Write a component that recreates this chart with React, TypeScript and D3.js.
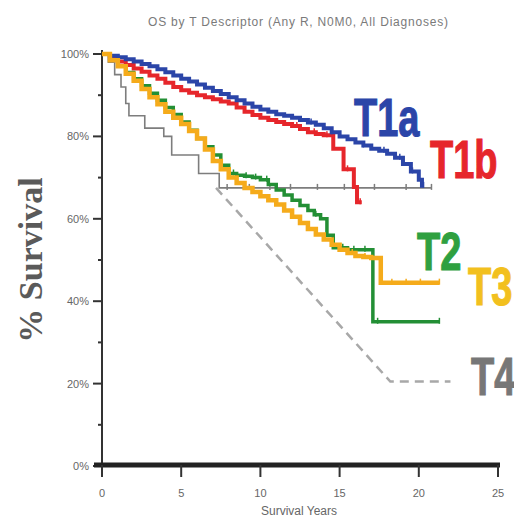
import React from "react";
import * as d3 from "d3";

// Kaplan-Meier curves (years, % survival)
const t1aTimes = [0, 0.5, 1, 1.5, 2, 2.5, 3, 3.5, 4, 4.5, 5, 5.5, 6, 6.5, 7, 7.5, 8, 8.5, 9, 9.5, 10, 10.5, 11, 11.5, 12, 12.5, 13, 13.5, 14, 14.5, 15, 15.5, 16, 16.5, 17, 17.5, 18, 18.5, 19, 19.5, 20, 20.2, 20.3];
const t1aSurv = [100, 99.6, 99.2, 98.7, 98.2, 97.6, 97, 96.3, 95.6, 94.8, 94, 93.3, 92.6, 91.8, 91, 90.3, 89.5, 88.8, 88, 87.2, 86.5, 86, 85.4, 85, 84.5, 84, 83.4, 82.8, 82, 81, 80, 79.3, 78.5, 77.8, 77, 76.5, 75.8, 74.8, 73.3, 71.5, 69.5, 68, 68];

const t1bTimes = [0, 0.5, 1, 1.5, 2, 2.5, 3, 3.5, 4, 4.5, 5, 5.5, 6, 6.5, 7, 7.5, 8, 8.5, 9, 9.5, 10, 10.5, 11, 11.5, 12, 12.5, 13, 13.5, 14, 14.6, 15.25, 15.9, 16.1, 16.4];
const t1bSurv = [100, 99, 98.2, 97.3, 96.5, 95.7, 94.8, 94, 93, 92, 91.2, 90.6, 90, 89.5, 89, 88.5, 88, 87, 86, 85.2, 84.5, 84, 83.5, 83, 82.5, 81.8, 81, 80.6, 80.3, 77, 72, 67.7, 64, 64];

const t2Times = [0, 0.5, 1, 1.5, 2, 2.5, 3, 3.5, 4, 4.5, 5, 5.5, 6, 6.5, 7, 7.5, 8, 8.5, 9, 9.5, 10, 10.5, 11, 11.5, 12, 12.5, 13, 13.4, 13.8, 14.2, 14.6, 15.5, 17.1, 21.3];
const t2Surv = [100, 98.5, 97, 95.5, 94, 92.3, 90.5, 88.8, 87, 85.3, 83.5, 81.5, 79.5, 77.5, 75.5, 73, 71, 70.6, 70.3, 70, 69.5, 68.3, 67, 65.8, 64.5, 63.2, 62, 61, 60, 56, 53, 52.5, 35, 35];

const t3Times = [0, 0.5, 1, 1.5, 2, 2.5, 3, 3.5, 4, 4.5, 5, 5.5, 6, 6.5, 7, 7.5, 8, 8.5, 9, 9.5, 10, 10.5, 11, 11.5, 12, 12.5, 13, 13.5, 14, 14.5, 15, 15.5, 16, 16.5, 17, 17.6, 21.3];
const t3Surv = [100, 98.5, 97, 95.2, 93.5, 91.5, 89.5, 87.8, 86, 84.5, 83, 81.3, 79.5, 76.8, 74, 72, 70, 68.7, 67.5, 66.5, 65.5, 64.5, 63.5, 62, 60.5, 59, 57.5, 56.2, 55, 53.7, 52.5, 51.7, 51, 50.7, 50.5, 44.5, 44.5];

const t4Times = [0, 0.4, 0.8, 1.2, 1.5, 1.7, 2.7, 3.9, 4.4, 6.1, 7.4, 20.8];
const t4Surv = [100, 98, 95, 92, 88, 85, 82, 80, 75.5, 71, 67.5, 67.5];

// projected T4 curve (dashed)
const t4ProjTimes = [7.2, 18.2, 22];
const t4ProjSurv = [67.5, 20.5, 20.5];

// censor ticks
const t1aCensor = [13.2, 14.5, 16.5, 17.8, 18.8, 19.6, 20.3];
const t1bCensor = [11.5, 12.3, 13.4, 14.2, 15.5, 16.3];
const t2Censor = [8.3, 9.1, 9.7, 10.4, 13.5, 15.2, 15.9, 16.6, 17.4, 21.3];
const t3Censor = [15.8, 16.6, 18.3, 19.2, 20.1, 21.3];
const t4Censor = [7.9, 9.3, 10.6, 11.9, 13.6, 15.3, 17.2, 19.2, 20.8];

const yTicks = [0, 20, 40, 60, 80, 100];
const yMinor = [10, 30, 50, 70, 90];
const xTicks = [0, 5, 10, 15, 20, 25];

const series = [
  { name: "T4", times: t4Times, surv: t4Surv, censor: t4Censor, color: "#7d7d7d", width: 1.6 },
  { name: "T1b", times: t1bTimes, surv: t1bSurv, censor: t1bCensor, color: "#e6262b", width: 4 },
  { name: "T1a", times: t1aTimes, surv: t1aSurv, censor: t1aCensor, color: "#2b45a8", width: 4 },
  { name: "T2", times: t2Times, surv: t2Surv, censor: t2Censor, color: "#238f35", width: 3.5 },
  { name: "T3", times: t3Times, surv: t3Surv, censor: t3Censor, color: "#f5ab1b", width: 4.5 },
];

const labels = [
  { text: "T1a", x: 354, y: 136, color: "#2b45a8" },
  { text: "T1b", x: 430, y: 178, color: "#e6262b" },
  { text: "T2", x: 417, y: 270, color: "#2fa040" },
  { text: "T3", x: 468, y: 305, color: "#f2c01e" },
  { text: "T4", x: 471, y: 395, color: "#777777" },
];

const App = () => {
  const x = d3.scaleLinear().domain([0, 25]).range([102, 498]);
  const y = d3.scaleLinear().domain([0, 100]).range([466, 54]);

  const line = d3
    .line<[number, number]>()
    .x((d) => x(d[0]))
    .y((d) => y(d[1]))
    .curve(d3.curveStepAfter);

  const dash = d3
    .line<[number, number]>()
    .x((d) => x(d[0]))
    .y((d) => y(d[1]));

  const survAt = (times: number[], surv: number[], t: number) => {
    const i = d3.bisectRight(times, t) - 1;
    return surv[Math.max(0, i)];
  };

  return (
    <svg width={514} height={520} style={{ position: "absolute", left: 0, top: 0, background: "#fff" }}>
      <text x={298} y={26} textAnchor="middle" fontFamily="Liberation Sans, Arial" fontSize={12} fill="#7a7a7a" textLength={300}>
        OS by T Descriptor (Any R, N0M0, All Diagnoses)
      </text>

      {/* y axis */}
      <line x1={102} x2={102} y1={50} y2={470} stroke="#333" strokeWidth={2} />
      {yTicks.map((v) => (
        <g key={"y" + v}>
          <line x1={93} x2={102} y1={y(v)} y2={y(v)} stroke="#333" strokeWidth={2} />
          <text x={89} y={y(v) + 4} textAnchor="end" fontFamily="Liberation Sans, Arial" fontSize={11} fill="#666">
            {v}%
          </text>
        </g>
      ))}
      {yMinor.map((v) => (
        <line key={"ym" + v} x1={98} x2={102} y1={y(v)} y2={y(v)} stroke="#333" strokeWidth={2} />
      ))}
      <text
        transform="translate(42,260) rotate(-90)"
        textAnchor="middle"
        fontFamily="Liberation Serif, Times New Roman, serif"
        fontWeight="bold"
        fontSize={34}
        fill="#5a5a5a"
      >
        % Survival
      </text>

      {/* x axis */}
      <line x1={94} x2={500} y1={465} y2={465} stroke="#222" strokeWidth={5} />
      {xTicks.map((v) => (
        <g key={"x" + v}>
          <line x1={x(v)} x2={x(v)} y1={465} y2={477} stroke="#333" strokeWidth={2} />
          <text x={x(v)} y={497} textAnchor="middle" fontFamily="Liberation Sans, Arial" fontSize={11} fill="#666">
            {v}
          </text>
        </g>
      ))}
      <text x={299} y={515} textAnchor="middle" fontFamily="Liberation Sans, Arial" fontSize={12} fill="#666">
        Survival Years
      </text>

      {/* projected T4 */}
      <path
        d={dash(t4ProjTimes.map((t, i) => [t, t4ProjSurv[i]] as [number, number])) || ""}
        fill="none"
        stroke="#a8a8a8"
        strokeWidth={2.5}
        strokeDasharray="9,6"
      />

      {series.map((s) => (
        <g key={s.name}>
          <path
            d={line(s.times.map((t, i) => [t, s.surv[i]] as [number, number])) || ""}
            fill="none"
            stroke={s.color}
            strokeWidth={s.width}
            strokeLinejoin="miter"
          />
          {s.censor.map((c) => {
            const v = survAt(s.times, s.surv, c);
            return (
              <line
                key={c}
                x1={x(c)}
                x2={x(c)}
                y1={y(v) - 4}
                y2={y(v) + 2}
                stroke={s.color}
                strokeWidth={1.5}
              />
            );
          })}
        </g>
      ))}

      {labels.map((l) => (
        <text
          key={l.text}
          transform={`translate(${l.x},${l.y}) scale(1,1.4)`}
          fontFamily="Liberation Sans, Arial"
          fontWeight="bold"
          fontSize={38}
          fill={l.color}
          stroke={l.color}
          strokeWidth={0.8}
        >
          {l.text}
        </text>
      ))}
    </svg>
  );
};

export default App;
